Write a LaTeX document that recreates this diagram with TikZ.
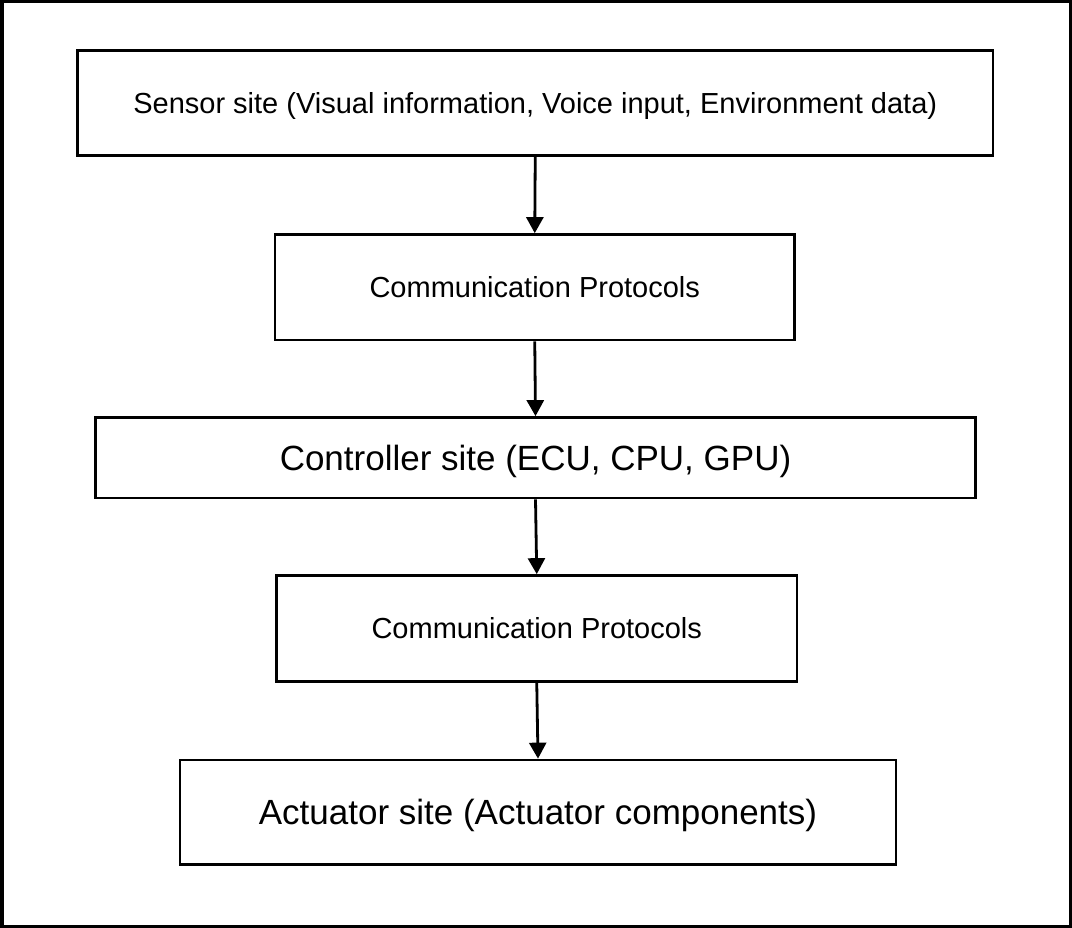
\documentclass[tikz,border=0pt]{standalone}
\usepackage{fontspec}
\setmainfont{Liberation Sans}
\usetikzlibrary{arrows.meta}
\tikzset{
  box/.style={draw=black, line width=2.7pt, fill=white, inner sep=0pt, align=center},
  smalltext/.style={font=\fontsize{29}{34}\selectfont, text height=20.8pt, text depth=0pt},
  bigtext/.style={font=\fontsize{35}{41}\selectfont, text height=25.1pt, text depth=0pt},
  flow/.style={draw=black, line width=2.8pt, -{Triangle[length=16pt,width=17pt]}}
}
\begin{document}
\begin{tikzpicture}[x=1pt,y=-1pt]
\useasboundingbox (0,0) rectangle (1072,928);
\draw[line width=3.5pt] (1.75,1.75) rectangle (1070.25,926.25);
\node[box, smalltext, minimum width=915.5pt, minimum height=105pt] (b1) at (535.25,103) {Sensor site (Visual information, Voice input, Environment data)};
\node[box, smalltext, minimum width=519.5pt, minimum height=105.5pt] (b2) at (534.75,287.25) {Communication Protocols};
\node[box, bigtext, minimum width=880pt, minimum height=80.5pt] (b3) at (535.5,457.75) {Controller site (ECU, CPU, GPU)};
\node[box, smalltext, minimum width=520.5pt, minimum height=106pt] (b4) at (536.75,628.5) {Communication Protocols};
\node[box, bigtext, minimum width=716pt, minimum height=104.5pt] (b5) at (538,812.25) {Actuator site (Actuator components)};
\draw[flow] (b1.south) -- (b2.north);
\draw[flow] (b2.south) -- (b3.north);
\draw[flow] (b3.south) -- (b4.north);
\draw[flow] (b4.south) -- (b5.north);
\end{tikzpicture}
\end{document}
